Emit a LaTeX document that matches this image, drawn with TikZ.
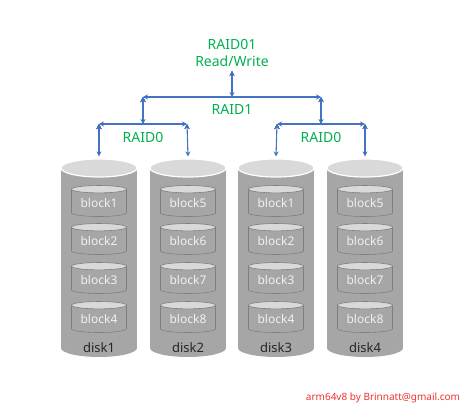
\documentclass[tikz,border=0pt]{standalone}
\usepackage{fontspec}
\setmainfont{Noto Sans}
\usetikzlibrary{shapes.geometric, positioning, arrows.meta}

\definecolor{raidgreen}{HTML}{00B050}
\definecolor{raidblue}{HTML}{4472C4}
\definecolor{diskgray}{HTML}{A6A6A6}
\definecolor{disktop}{HTML}{D9D9D9}
\definecolor{blockline}{HTML}{7F7F7F}
\definecolor{mailred}{HTML}{F03030}

\begin{document}
\begin{tikzpicture}[x=1pt, y=-1pt, <->, >={Stealth[length=5pt,width=5pt]},
  raidtext/.style={text=raidgreen, font=\fontsize{14}{16}\selectfont, inner sep=0pt},
  link/.style={draw=raidblue, line width=1.1pt},
  diskbody/.style={rectangle, fill=diskgray, minimum width=76pt, minimum height=180pt, inner sep=0pt},
  diskend/.style={ellipse, minimum width=76pt, minimum height=18pt, inner sep=0pt},
  block/.style={cylinder, shape border rotate=90, aspect=0.2, draw=blockline, line width=0.6pt,
    cylinder uses custom fill, cylinder body fill=diskgray, cylinder end fill=disktop,
    minimum width=55pt, minimum height=31pt, inner sep=0pt, text=white!94!black,
    font=\fontsize{12}{14}\selectfont},
  disklabel/.style={text=black!85, font=\fontsize{13}{15}\selectfont, inner sep=0pt}]
\useasboundingbox (0,0) rectangle (474,412);

% top level
\node[raidtext, align=center] (raid01) at (232,53) {RAID01\\[1pt]Read/Write};
\coordinate (r1 mid) at (232,97);
\coordinate (r1 left) at (143,97);
\coordinate (r1 right) at (321,97);
\node[raidtext] (raid1) at (232,109) {RAID1};

% raid0 pairs
\coordinate (r0a left) at (99,124);
\coordinate (r0a mid) at (143,124);
\coordinate (r0a right) at (187,124);
\node[raidtext] (raid0a) at (143,137) {RAID0};
\coordinate (r0b left) at (277,124);
\coordinate (r0b mid) at (321,124);
\coordinate (r0b right) at (365,124);
\node[raidtext] (raid0b) at (321,137) {RAID0};

% disks
\foreach \d/\x in {1/99, 2/188, 3/276, 4/365}{
  \node[diskbody] (disk\d) at (\x,258) {};
  \node[diskend, fill=diskgray] (disk\d-bottom) at (\x,348) {};
  \node[diskend, fill=disktop, draw=white, line width=1.2pt] (disk\d-top) at (\x,168) {};
  \node[disklabel] (disk\d-name) at (\x,348) {disk\d};
}

% blocks
\foreach \d/\x/\a/\b/\c/\e in {1/99/1/2/3/4, 2/188/5/6/7/8, 3/276/1/2/3/4, 4/365/5/6/7/8}{
  \node[block] (b\d1) at (\x,203) {block\a};
  \node[block] (b\d2) at (\x,241) {block\b};
  \node[block] (b\d3) at (\x,280) {block\c};
  \node[block] (b\d4) at (\x,319) {block\e};
}

% links
\draw[link] (raid01.south) ++(0,4) coordinate (r01 foot) edge (r1 mid);
\draw[link] (r1 left) edge (r1 right);
\draw[link] (r1 left) edge (r0a mid);
\draw[link] (r1 right) edge (r0b mid);
\draw[link] (r0a left) edge (r0a right);
\draw[link] (r0b left) edge (r0b right);
\draw[link] (r0a left) edge ([yshift=2pt]disk1-top.north);
\draw[link] (r0a right) edge ([yshift=2pt]disk2-top.north);
\draw[link] (r0b left) edge ([yshift=2pt]disk3-top.north);
\draw[link] (r0b right) edge ([yshift=2pt]disk4-top.north);

\node[text=mailred, font=\fontsize{10}{12}\selectfont, inner sep=0pt] (mail) at (383,398) {arm64v8 by Brinnatt@gmail.com};
\end{tikzpicture}
\end{document}
